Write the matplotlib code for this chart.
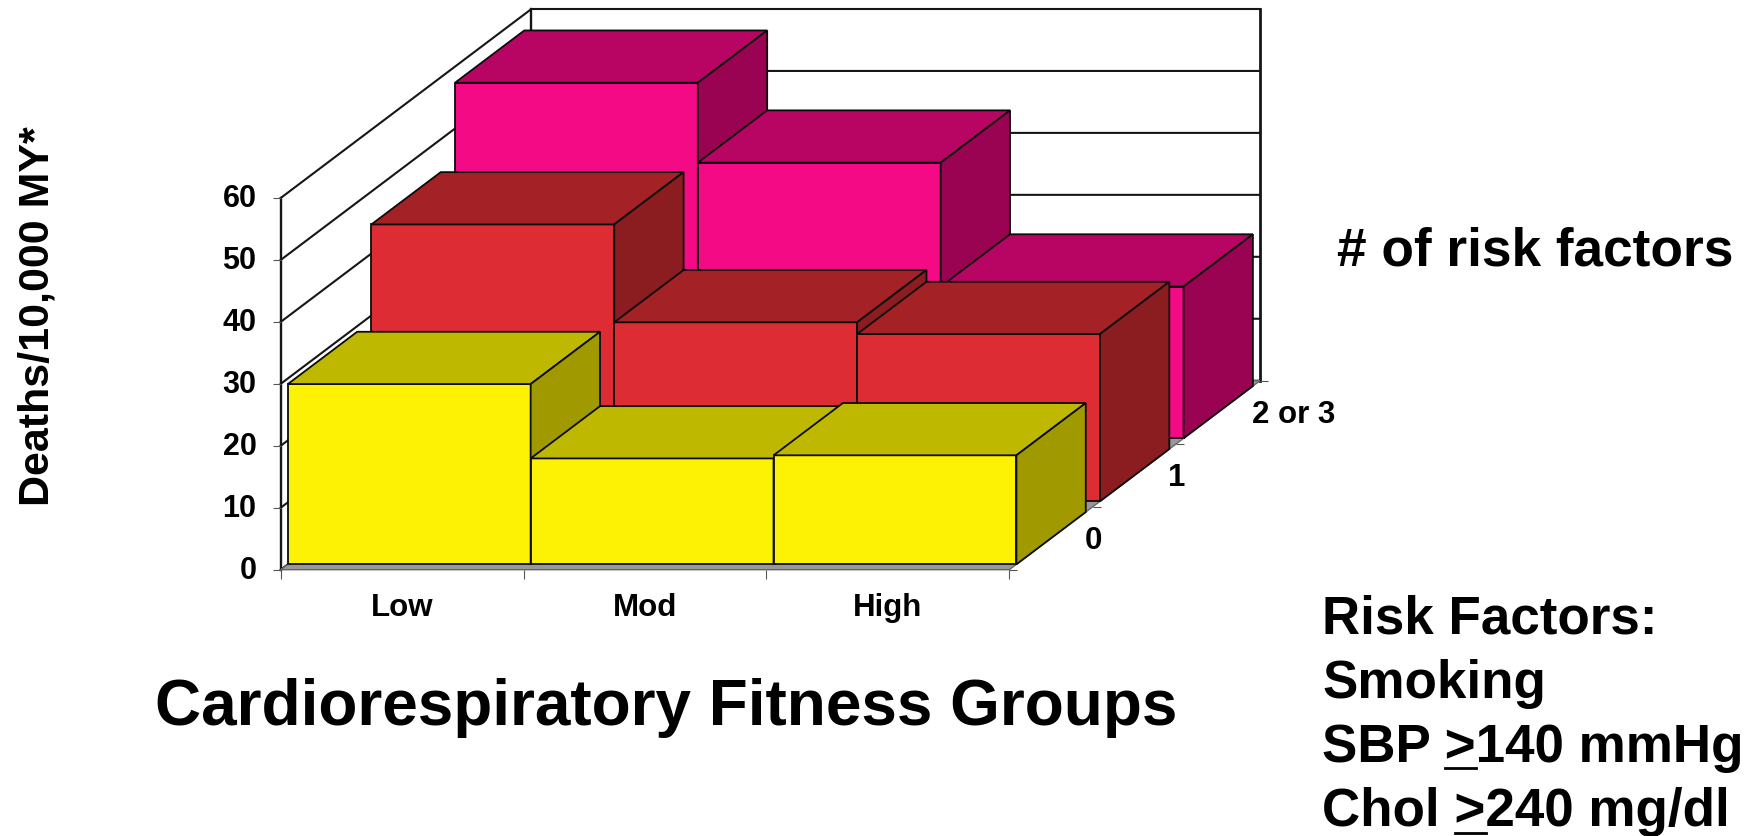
import matplotlib
matplotlib.use('Agg')
import matplotlib.pyplot as plt
from matplotlib.markers import TICKRIGHT
from matplotlib.transforms import ScaledTranslation

plt.rcParams['font.family'] = ['Liberation Sans', 'DejaVu Sans']
plt.rcParams['font.weight'] = 'bold'

W, H = 1762, 836

groups = ['Low', 'Mod', 'High']
risk_labels = ['0', '1', '2 or 3']
y_ticks = [0, 10, 20, 30, 40, 50, 60]

# deaths per 10,000 man-years, one list per number of risk factors
deaths_0 = [29.1, 17.1, 17.6]
deaths_1 = [44.7, 28.9, 27.0]
deaths_2 = [57.4, 44.5, 24.5]

# front, top, side
yellow = ('#fdf204', '#bfb800', '#a09a00')
red = ('#dd2c33', '#a42125', '#8b1c1f')
pink = ('#f50a85', '#b80563', '#9a0352')

# one step back in depth moves this far along x and y (data units)
DX = 83.57 / 242.87
DY = 63.0 / 6.195
BAR_START = 0.085
BAR_END = 0.915


def project(cat, depth, val):
    return cat + depth * DX, val + depth * DY


def poly(ax, pts, fc, z, ec='#0c0c0c', lw=1.3):
    xs = [p[0] for p in pts]
    ys = [p[1] for p in pts]
    ax.fill(xs, ys, facecolor=fc, edgecolor=ec, linewidth=lw,
            clip_on=False, zorder=z, joinstyle='miter')


def bar3d(ax, cat, row, val, colors, z):
    d0 = row + BAR_START
    d1 = row + BAR_END
    a = cat
    b = cat + 1
    poly(ax, [project(a, d0, 0), project(b, d0, 0), project(b, d0, val), project(a, d0, val)], colors[0], z)
    poly(ax, [project(a, d0, val), project(b, d0, val), project(b, d1, val), project(a, d1, val)], colors[1], z)
    poly(ax, [project(b, d0, 0), project(b, d1, 0), project(b, d1, val), project(b, d0, val)], colors[2], z)


def wall_line(ax, pts, lw=1.5, color='#161616'):
    ax.plot([p[0] for p in pts], [p[1] for p in pts], color=color, lw=lw,
            clip_on=False, zorder=1, solid_capstyle='projecting')


fig = plt.figure(figsize=(W / 100, H / 100), dpi=100, facecolor='white')
ax = fig.add_axes([280.7 / W, (H - 569.7) / H, 728.6 / W, 371.7 / H])
ax.set_xlim(0, 3)
ax.set_ylim(0, 60)
ax.patch.set_visible(False)
for s in ax.spines.values():
    s.set_visible(False)

# walls and gridlines
for v in y_ticks:
    wall_line(ax, [project(0, 0, v), project(0, 3, v), project(3, 3, v)])
wall_line(ax, [project(0, 0, 0), project(0, 0, 60)], lw=1.7)
wall_line(ax, [project(0, 3, 0), project(0, 3, 60)], lw=1.7)
wall_line(ax, [project(3, 3, 0), project(3, 3, 60)], lw=2.0)

# floor
poly(ax, [project(0, 0, 0), project(3, 0, 0), project(3, 3, 0), project(0, 3, 0)], '#989898', 2, ec='#666666', lw=1.0)

# back row first, left to right so nearer bars overlap
z = 3
for row, vals, colors in [(2, deaths_2, pink), (1, deaths_1, red), (0, deaths_0, yellow)]:
    for cat, v in enumerate(vals):
        bar3d(ax, cat, row, v, colors, z)
        z += 1

# axis ticks
ax.set_yticks(y_ticks)
ax.set_xticks([0, 1, 2, 3])
ax.set_xticklabels([])
ax.set_xticks([0.5, 1.5, 2.5], minor=True)
ax.set_xticklabels(groups, minor=True, fontsize=22.5, fontweight='bold')
ax.tick_params(axis='x', which='major', length=6.5, width=0.8, color='#555555')
ax.tick_params(axis='x', which='minor', length=0, pad=17)
ax.tick_params(axis='y', length=6, width=0.8, color='#555555', pad=11.5, labelsize=22)

# nudge the value labels up a little against their ticks
nudge = ScaledTranslation(0, 1.5 / 72, fig.dpi_scale_trans)
for lab in ax.get_yticklabels():
    lab.set_transform(lab.get_transform() + nudge)

for d in range(4):
    x, y = project(3, d, 0)
    ax.plot([x], [y], marker=TICKRIGHT, ms=6, mew=0.8, color='#555555', clip_on=False, zorder=30)

for d, lab in enumerate(risk_labels):
    ax.annotate(lab, project(3, d + 0.5, 0), xytext=(24, -2.2), textcoords='offset points',
                fontsize=22.5, fontweight='bold', ha='left', va='center', annotation_clip=False)


def ftext(px, py, s, **kw):
    return fig.text(px / W, 1 - py / H, s, fontweight='bold', color='black', **kw)


ftext(666, 708, 'Cardiorespiratory Fitness Groups', fontsize=46, ha='center', va='center')
ftext(38, 316, 'Deaths/10,000 MY*', fontsize=31, rotation=90, ha='center', va='center')
ftext(1535.5, 251, '# of risk factors', fontsize=38.3, ha='center', va='center')

# risk factor list, the ">" signs get a rule under them
list_x = 1322.5
list_size = 38.2
lines = [('Risk Factors:', 633, None), ('Smoking', 697.7, None),
         ('SBP >140 mmHg', 761.7, 'SBP >'), ('Chol >240 mg/dl', 826, 'Chol >')]
renderer = fig.canvas.get_renderer()


def text_w(s):
    t = fig.text(0, 0, s, fontsize=list_size, fontweight='bold')
    w = t.get_window_extent(renderer).width
    t.remove()
    return w


for txt, base, prefix in lines:
    ftext(list_x, base, txt, fontsize=list_size, ha='left', va='baseline')
    if prefix:
        x1 = list_x + text_w(prefix)
        x0 = x1 - text_w('>')
        y_rule = 1 - (base + 6.5) / H
        fig.add_artist(plt.Line2D([x0 / W, x1 / W], [y_rule, y_rule], color='black', lw=2.0))

fig.savefig('out.png', dpi=100, facecolor='white')
